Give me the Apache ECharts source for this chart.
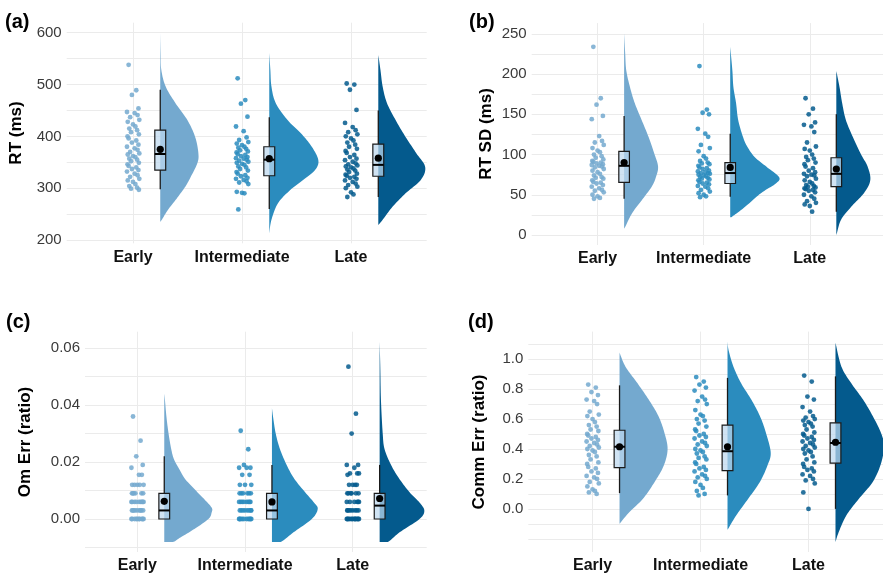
<!DOCTYPE html>
<html><head><meta charset="utf-8">
<script src="https://cdn.jsdelivr.net/npm/echarts@6/dist/echarts.min.js"></script>
<style>html,body{margin:0;padding:0;background:#fff}#c{width:883px;height:574px}</style>
</head><body><div id="c"></div>
<script>
// ---------------- DATA ----------------
const CATEGORIES = ['Early', 'Intermediate', 'Late'];

// (a) RT (ms)
const RT_TICKS = [200, 300, 400, 500, 600];
const RT_EARLY = [538,489,480,454,447,445,441,437,432,428,423,419,415,412,408,404,400,396,392,388,384,380,377,374,370,367,365,362,360,357,355,352,349,346,343,340,337,335,332,328,325,322,318,315,312,308,304,301,299,297];
const RT_INTER = [512,470,463,438,419,410,398,393,389,386,383,380,378,376,373,371,369,366,364,362,360,358,357,355,353,351,349,347,345,342,340,337,334,331,328,325,323,320,318,316,313,311,308,293,291,290,259];
const RT_LATE  = [502,500,490,451,426,418,412,408,404,400,396,392,388,384,380,376,372,368,364,360,357,354,351,348,346,344,342,340,338,336,334,331,328,326,324,322,320,318,315,312,309,306,303,300,292,288,283];
// box stats: [whiskerLow, q1, median, q3, whiskerHigh, mean]
const RT_BOX = [[298,335,366,412,490,375],[260,324,355,380,437,357],[283,323,345,385,450,358]];
// violin profiles: [value, half-density width]
const RT_VIOLIN_EARLY = [[235,0],[239,0.014],[258,0.07],[277,0.14],[303,0.23],[322,0.28],[348,0.34],[367,0.35],[399,0.32],[431,0.25],[464,0.14],[496,0.05],[528,0.01],[560,0.004],[600,0]];
const RT_VIOLIN_INTER = [[213,0],[239,0.02],[271,0.08],[296,0.19],[316,0.31],[335,0.42],[354,0.45],[380,0.39],[406,0.29],[431,0.17],[464,0.06],[496,0.02],[528,0.01],[561,0]];
const RT_VIOLIN_LATE  = [[229,0],[239,0.04],[264,0.13],[290,0.25],[316,0.39],[341,0.43],[367,0.35],[399,0.25],[431,0.16],[464,0.08],[496,0.04],[528,0.02],[557,0]];

// (b) RT SD (ms)
const SD_TICKS = [0, 50, 100, 150, 200, 250];
const SD_EARLY = [234,170,162,148,144,123,117,115,112,108,105,103,100,98,96,94,92,91,90,89,88,87,86,85,84,82,80,78,76,74,72,71,70,68,66,65,64,62,60,58,56,55,53,50,48,46,45];
const SD_INTER = [210,156,152,150,132,126,122,112,108,104,98,95,92,90,89,88,86,84,83,82,80,79,78,77,77,76,75,74,73,72,71,70,69,68,66,65,64,63,61,60,58,56,54,52,50,48,47];
const SD_LATE  = [170,157,150,140,137,135,128,115,110,107,105,100,97,95,93,90,88,85,83,80,78,76,75,74,73,70,68,66,64,62,61,60,59,58,57,56,55,53,50,48,45,42,40,38,36,29];
const SD_BOX = [[45,65.5,86,104,148,90],[47.5,64,77,90,126,84],[29,60,76,96,150,82]];
const SD_VIOLIN_EARLY = [[8,0],[10,0.01],[27,0.075],[43,0.165],[60,0.26],[72,0.30],[85,0.32],[101,0.285],[122,0.23],[143,0.165],[164,0.10],[184,0.055],[205,0.02],[226,0.01],[251,0]];
const SD_VIOLIN_INTER = [[22,0],[23,0.02],[35,0.14],[52,0.29],[64,0.43],[72,0.46],[85,0.34],[97,0.23],[110,0.16],[122,0.12],[143,0.075],[164,0.055],[184,0.03],[205,0.02],[234,0]];
const SD_VIOLIN_LATE  = [[0,0],[2,0.005],[19,0.045],[35,0.14],[52,0.26],[68,0.32],[85,0.295],[101,0.23],[122,0.155],[143,0.09],[164,0.055],[184,0.03],[204,0]];

// (c) Om Err (ratio)
const OM_TICKS = [0, 0.02, 0.04, 0.06];
const OM_EARLY = [0.036,0.0275,0.022,0.019,0.018,0.0155,0.0155,0.012,0.012,0.012,0.012,0.012,0.009,0.009,0.009,0.009,0.009,0.009,0.006,0.006,0.006,0.006,0.006,0.006,0.006,0.006,0.006,0.003,0.003,0.003,0.003,0.003,0.003,0.003,0.003,0.003,0,0,0,0,0,0,0,0,0,0];
const OM_INTER = [0.031,0.0245,0.019,0.018,0.018,0.018,0.0155,0.0155,0.012,0.012,0.012,0.009,0.009,0.009,0.009,0.009,0.009,0.006,0.006,0.006,0.006,0.006,0.006,0.006,0.006,0.003,0.003,0.003,0.003,0.003,0.003,0.003,0.003,0,0,0,0,0,0,0,0,0,0];
const OM_LATE  = [0.0535,0.037,0.030,0.019,0.019,0.018,0.016,0.016,0.016,0.0155,0.012,0.012,0.012,0.012,0.009,0.009,0.009,0.009,0.009,0.009,0.006,0.006,0.006,0.006,0.006,0.006,0.003,0.003,0.003,0.003,0.003,0.003,0.003,0.003,0,0,0,0,0,0,0,0,0,0,0,0];
const OM_BOX = [[0,0,0.003,0.009,0.022,0.0062],[0,0,0.003,0.009,0.019,0.006],[0,0,0.0047,0.009,0.019,0.0072]];
const OM_VIOLIN_EARLY = [[-0.0081,0],[-0.0081,0.08],[-0.0065,0.15],[-0.0035,0.28],[0,0.41],[0.0023,0.44],[0.004,0.44],[0.007,0.37],[0.0105,0.28],[0.014,0.195],[0.0175,0.14],[0.021,0.09],[0.0245,0.065],[0.030,0.04],[0.036,0.02],[0.042,0.006],[0.044,0]];
const OM_VIOLIN_INTER = [[-0.0081,0],[-0.0081,0.08],[-0.0047,0.2],[0,0.37],[0.0035,0.425],[0.0058,0.39],[0.0093,0.31],[0.014,0.21],[0.0187,0.14],[0.0245,0.075],[0.030,0.035],[0.036,0.01],[0.039,0]];
const OM_VIOLIN_LATE  = [[-0.0081,0],[-0.0081,0.075],[-0.0047,0.185],[0,0.37],[0.0029,0.415],[0.0058,0.37],[0.0093,0.28],[0.014,0.185],[0.0187,0.11],[0.0245,0.046],[0.0303,0.028],[0.042,0.012],[0.0536,0.006],[0.0623,0]];

// (d) Comm Err (ratio)
const CE_TICKS = [0, 0.2, 0.4, 0.6, 0.8, 1.0];
const CE_EARLY = [0.83,0.81,0.78,0.76,0.73,0.72,0.70,0.65,0.63,0.62,0.60,0.58,0.56,0.55,0.53,0.52,0.50,0.49,0.48,0.47,0.46,0.45,0.44,0.43,0.42,0.41,0.40,0.39,0.38,0.36,0.35,0.33,0.31,0.30,0.28,0.27,0.25,0.24,0.22,0.21,0.20,0.18,0.17,0.15,0.13,0.12,0.11,0.10];
const CE_INTER = [0.88,0.85,0.83,0.81,0.79,0.75,0.73,0.72,0.70,0.66,0.63,0.62,0.60,0.59,0.57,0.55,0.53,0.52,0.50,0.49,0.48,0.47,0.45,0.44,0.43,0.42,0.40,0.39,0.38,0.37,0.35,0.34,0.33,0.31,0.30,0.28,0.27,0.26,0.25,0.23,0.22,0.21,0.20,0.18,0.16,0.14,0.12,0.10,0.09];
const CE_LATE  = [0.89,0.85,0.75,0.73,0.68,0.65,0.62,0.61,0.60,0.59,0.58,0.57,0.56,0.55,0.53,0.51,0.50,0.49,0.48,0.47,0.46,0.45,0.44,0.43,0.42,0.41,0.40,0.39,0.38,0.37,0.35,0.33,0.31,0.30,0.28,0.27,0.26,0.25,0.23,0.22,0.20,0.19,0.17,0.11,0.00];
const CE_BOX = [[0.105,0.275,0.415,0.525,0.825,0.415],[0.09,0.255,0.385,0.56,0.875,0.415],[0.0,0.305,0.44,0.575,0.885,0.445]];
const CE_VIOLIN_EARLY = [[-0.1,0],[-0.022,0.09],[0.066,0.215],[0.18,0.325],[0.29,0.41],[0.40,0.445],[0.51,0.415],[0.62,0.36],[0.73,0.27],[0.84,0.165],[0.95,0.055],[1.044,0]];
const CE_VIOLIN_INTER = [[-0.14,0],[-0.044,0.08],[0.066,0.19],[0.18,0.30],[0.29,0.37],[0.376,0.40],[0.51,0.355],[0.62,0.30],[0.73,0.22],[0.84,0.125],[0.95,0.055],[1.06,0.01],[1.117,0]];
const CE_VIOLIN_LATE  = [[-0.221,0],[-0.155,0.03],[-0.044,0.1],[0.066,0.215],[0.18,0.345],[0.30,0.42],[0.42,0.45],[0.51,0.42],[0.62,0.345],[0.73,0.255],[0.84,0.145],[0.95,0.055],[1.11,0]];

// ---------------- STYLE / LAYOUT ----------------
const FONT = '"Liberation Sans", Arial, Helvetica, sans-serif';
const GROUP_COLORS = ['#74a9cf', '#2b8cbe', '#045a8d'];
const BOX_SHIFT = 0.25, BOX_HALF = 0.05;
const JITTER = [-0.04,0.03,-0.01,0.05,-0.055,0.015,0.042,-0.026,0.058,-0.048,0.0,0.022,-0.034,0.038,-0.018,0.054,-0.05];
const GRID_COLOR = '#ebebeb';

const PANELS = [
  {tag:'(a)', yTitle:'RT (ms)', ticks:RT_TICKS, points:[RT_EARLY,RT_INTER,RT_LATE], box:RT_BOX, violins:[RT_VIOLIN_EARLY,RT_VIOLIN_INTER,RT_VIOLIN_LATE]},
  {tag:'(b)', yTitle:'RT SD (ms)', ticks:SD_TICKS, points:[SD_EARLY,SD_INTER,SD_LATE], box:SD_BOX, violins:[SD_VIOLIN_EARLY,SD_VIOLIN_INTER,SD_VIOLIN_LATE]},
  {tag:'(c)', yTitle:'Om Err (ratio)', ticks:OM_TICKS, points:[OM_EARLY,OM_INTER,OM_LATE], box:OM_BOX, violins:[OM_VIOLIN_EARLY,OM_VIOLIN_INTER,OM_VIOLIN_LATE]},
  {tag:'(d)', yTitle:'Comm Err (ratio)', ticks:CE_TICKS, points:[CE_EARLY,CE_INTER,CE_LATE], box:CE_BOX, violins:[CE_VIOLIN_EARLY,CE_VIOLIN_INTER,CE_VIOLIN_LATE]}
];
const LAYOUT = [
  {grid:{left:66.7, top:22.7, width:360, height:220.6}, x:[0.392,3.694], y:[193.65,619.35], minor:[250,350,450,550], dec:0, tagPos:[5,22], titlePos:[16.7,133]},
  {grid:{left:531.7, top:23.1, width:358.6, height:221.9}, x:[0.379,3.69], y:[-12.5,263.5], minor:[25,75,125,175,225], dec:0, tagPos:[469,22], titlePos:[486.5,134]},
  {grid:{left:85, top:331.7, width:341.7, height:221.5}, x:[0.514,3.687], y:[-0.0116,0.0658], minor:[-0.01,0.01,0.03,0.05], dec:2, tagPos:[6,322.5], titlePos:[25,442]},
  {grid:{left:528.3, top:331.6, width:363, height:221.8}, x:[0.405,3.69], y:[-0.288,1.184], minor:[-0.2,-0.1,0.1,0.3,0.5,0.7,0.9,1.1], dec:1, tagPos:[468,322.5], titlePos:[479.7,442]}
];

function catmull(ctrl, steps) {
  const out = [];
  const n = ctrl.length;
  for (let k = 0; k < n - 1; k++) {
    const p0 = ctrl[Math.max(k - 1, 0)], p1 = ctrl[k], p2 = ctrl[k + 1], p3 = ctrl[Math.min(k + 2, n - 1)];
    for (let s = 0; s < steps; s++) {
      const t = s / steps, t2 = t * t, t3 = t2 * t;
      const f = (a, b, c, d) => 0.5 * (2 * b + (-a + c) * t + (2 * a - 5 * b + 4 * c - d) * t2 + (-a + 3 * b - 3 * c + d) * t3);
      out.push([f(p0[0], p1[0], p2[0], p3[0]), f(p0[1], p1[1], p2[1], p3[1])]);
    }
  }
  out.push(ctrl[n - 1]);
  return out;
}

function violinRender(profiles) {
  return function (params, api) {
    const g = params.dataIndex;
    const base = g + 1 + BOX_SHIFT;
    const prof = profiles[g];
    const ctrl = prof.map(([v, w]) => api.coord([base + w, v]));
    const ys = ctrl.map(p => p[1]);
    const ymin = Math.min.apply(null, ys), ymax = Math.max.apply(null, ys);
    const bx = api.coord([base, prof[0][0]])[0];
    let pts = catmull(ctrl, 10).map(p => [Math.max(p[0], bx), Math.min(Math.max(p[1], ymin), ymax)]);
    pts.unshift([bx, ctrl[0][1]]);
    pts.push([bx, ctrl[ctrl.length - 1][1]]);
    return {type: 'polygon', shape: {points: pts}, style: {fill: GROUP_COLORS[g], stroke: null}};
  };
}

function boxRender(stats) {
  return function (params, api) {
    const g = params.dataIndex;
    const [lo, q1, med, q3, hi, mean] = stats[g];
    const c = g + 1 + BOX_SHIFT;
    const pLo = api.coord([c, lo]), pQ1 = api.coord([c, q1]), pMed = api.coord([c, med]);
    const pQ3 = api.coord([c, q3]), pHi = api.coord([c, hi]), pMean = api.coord([c, mean]);
    const left = api.coord([c - BOX_HALF, q3])[0], right = api.coord([c + BOX_HALF, q3])[0];
    const ls = {stroke: '#1a1a1a', lineWidth: 1.3};
    return {type: 'group', children: [
      {type: 'line', shape: {x1: pHi[0], y1: pHi[1], x2: pQ3[0], y2: pQ3[1]}, style: ls},
      {type: 'line', shape: {x1: pQ1[0], y1: pQ1[1], x2: pLo[0], y2: pLo[1]}, style: ls},
      {type: 'rect', shape: {x: left, y: pQ3[1], width: right - left, height: pQ1[1] - pQ3[1]}, style: {fill: 'rgba(190,216,238,0.72)', stroke: '#1a1a1a', lineWidth: 1.2}},
      {type: 'line', shape: {x1: left, y1: pMed[1], x2: right, y2: pMed[1]}, style: {stroke: '#000', lineWidth: 2}},
      {type: 'circle', shape: {cx: pMean[0], cy: pMean[1], r: 3.6}, style: {fill: '#000'}}
    ]};
  };
}

const grid = [], xAxis = [], yAxis = [], series = [], graphic = [];
PANELS.forEach((P, i) => {
  const L = LAYOUT[i];
  grid.push(Object.assign({containLabel: false}, L.grid));
  xAxis.push({
    type: 'value', gridIndex: i, min: L.x[0], max: L.x[1],
    axisLine: {show: false},
    axisTick: {show: false, customValues: [1, 2, 3]},
    axisLabel: {customValues: [1, 2, 3], formatter: v => CATEGORIES[Math.round(v) - 1], fontSize: 16, fontWeight: 'bold', color: '#111', margin: 6, fontFamily: FONT},
    splitLine: {show: true, lineStyle: {color: GRID_COLOR, width: 1}}
  });
  yAxis.push({
    type: 'value', gridIndex: i, min: L.y[0], max: L.y[1],
    axisLine: {show: false},
    axisTick: {show: false, customValues: P.ticks.concat(L.minor)},
    axisLabel: {customValues: P.ticks, formatter: v => Number(v).toFixed(L.dec), fontSize: 15, color: '#3a3a3a', margin: 5, fontFamily: FONT},
    splitLine: {show: true, lineStyle: {color: GRID_COLOR, width: 1}}
  });
  series.push({type: 'custom', xAxisIndex: i, yAxisIndex: i, clip: false, z: 1, silent: true,
    data: [[1], [2], [3]], renderItem: violinRender(P.violins)});
  P.points.forEach((arr, g) => {
    series.push({type: 'scatter', xAxisIndex: i, yAxisIndex: i, z: 2, silent: true, symbolSize: 4.8,
      itemStyle: {color: GROUP_COLORS[g], opacity: 0.85},
      data: arr.map((v, k) => [g + 1 + JITTER[k % JITTER.length], v])});
  });
  series.push({type: 'custom', xAxisIndex: i, yAxisIndex: i, clip: false, z: 3, silent: true,
    data: [[1], [2], [3]], renderItem: boxRender(P.box)});
  graphic.push({type: 'text', x: L.tagPos[0], y: L.tagPos[1], silent: true,
    style: {text: P.tag, font: 'bold 20px ' + FONT, fill: '#000', align: 'left', verticalAlign: 'middle', textAlign: 'left', textVerticalAlign: 'middle'}});
  graphic.push({type: 'text', x: L.titlePos[0], y: L.titlePos[1], rotation: Math.PI / 2, silent: true,
    style: {text: P.yTitle, font: 'bold 17px ' + FONT, fill: '#000', align: 'center', verticalAlign: 'middle', textAlign: 'center', textVerticalAlign: 'middle'}});
});

const chart = echarts.init(document.getElementById('c'), null, {renderer: 'canvas'});
chart.setOption({backgroundColor: '#fff', animation: false, grid, xAxis, yAxis, series, graphic});
</script></body></html>
